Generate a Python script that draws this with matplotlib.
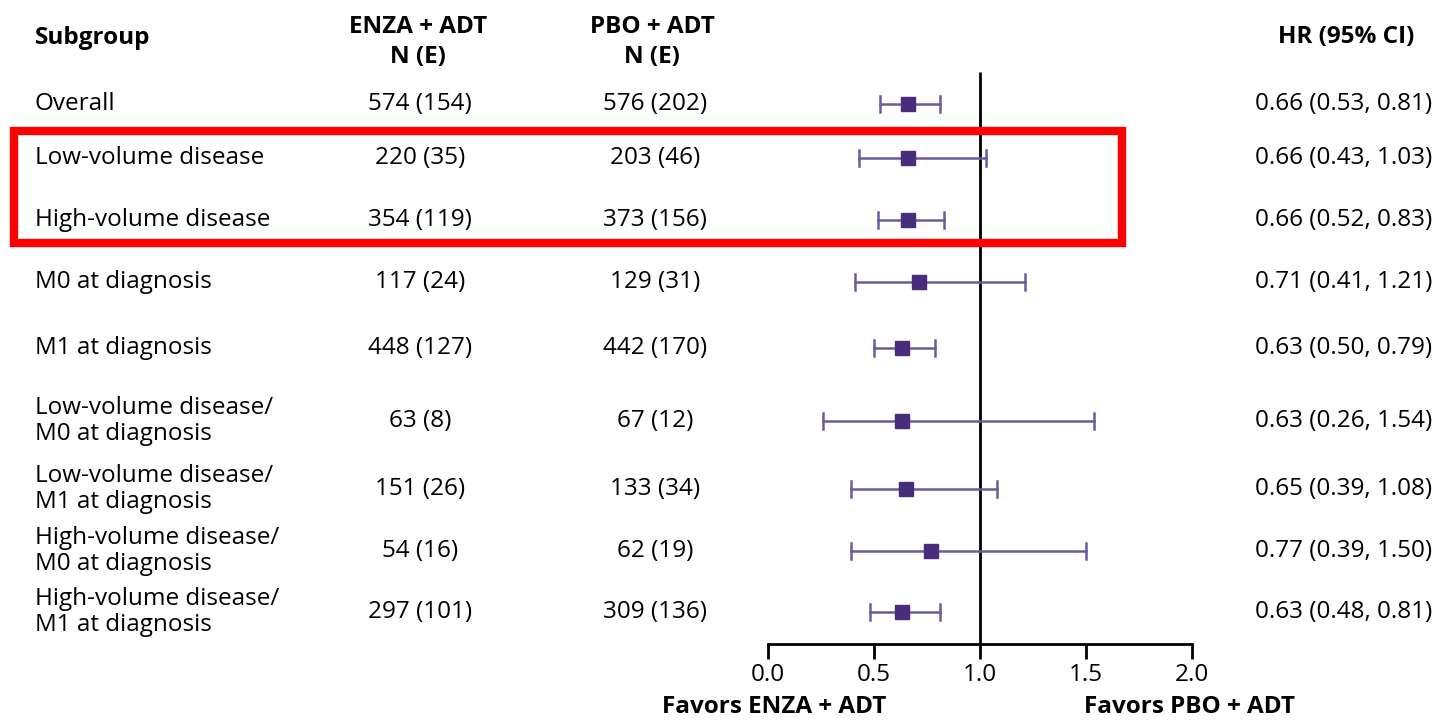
import matplotlib.pyplot as plt
from matplotlib.patches import Rectangle

plt.rcParams['font.family'] = ['Open Sans', 'DejaVu Sans']

subgroups = ['Overall', 'Low-volume disease', 'High-volume disease',
             'M0 at diagnosis', 'M1 at diagnosis',
             'Low-volume disease/\nM0 at diagnosis',
             'Low-volume disease/\nM1 at diagnosis',
             'High-volume disease/\nM0 at diagnosis',
             'High-volume disease/\nM1 at diagnosis']
enza_n = [574, 220, 354, 117, 448, 63, 151, 54, 297]
enza_e = [154, 35, 119, 24, 127, 8, 26, 16, 101]
pbo_n = [576, 203, 373, 129, 442, 67, 133, 62, 309]
pbo_e = [202, 46, 156, 31, 170, 12, 34, 19, 136]
hr = [0.66, 0.66, 0.66, 0.71, 0.63, 0.63, 0.65, 0.77, 0.63]
ci_low = [0.53, 0.43, 0.52, 0.41, 0.50, 0.26, 0.39, 0.39, 0.48]
ci_high = [0.81, 1.03, 0.83, 1.21, 0.79, 1.54, 1.08, 1.50, 0.81]

# layout (pixels from top)
W, H = 1443, 721
row_y = [104, 158, 220, 282, 348, 421, 489, 551, 612]

fig = plt.figure(figsize=(W / 100, H / 100), dpi=100)

def fx(px):
    return px / W

def fy(py):
    return 1 - py / H

marker_col = '#4a2c7d'
line_col = '#6d5a98'
fs = 17.5

ax = fig.add_axes([fx(768), fy(644), fx(1192) - fx(768), fy(0) - fy(644)])
ax.set_xlim(0, 2)
ax.set_ylim(644, 0)
for s in ['top', 'right', 'left']:
    ax.spines[s].set_visible(False)
ax.spines['bottom'].set_linewidth(2)
ax.set_yticks([])
ax.set_xticks([0, 0.5, 1.0, 1.5, 2.0])
ax.set_xticklabels(['0.0', '0.5', '1.0', '1.5', '2.0'], fontsize=fs)
ax.tick_params(axis='x', direction='out', length=11, width=2, pad=3)
ax.vlines(1.0, 72, 644, color='black', lw=2)

for y, h, lo, hi in zip(row_y, hr, ci_low, ci_high):
    ax.plot([lo, hi], [y, y], color=line_col, lw=1.8, zorder=3)
    ax.plot([lo, lo], [y - 8, y + 8], color=line_col, lw=1.8, zorder=3)
    ax.plot([hi, hi], [y - 8, y + 8], color=line_col, lw=1.8, zorder=3)
    ax.plot(h, y, marker='s', ms=10.5, color=marker_col, zorder=4)

# headers
fig.text(fx(35), fy(38), 'Subgroup', fontsize=fs, fontweight='bold', va='center', ha='left')
fig.text(fx(418), fy(42), 'ENZA + ADT\nN (E)', fontsize=fs, fontweight='bold',
         va='center', ha='center', linespacing=1.38)
fig.text(fx(652), fy(42), 'PBO + ADT\nN (E)', fontsize=fs, fontweight='bold',
         va='center', ha='center', linespacing=1.38)
fig.text(fx(1414), fy(37), 'HR (95% CI)', fontsize=fs, fontweight='bold', va='center', ha='right')

for i, y in enumerate(row_y):
    fig.text(fx(35), fy(y), subgroups[i], fontsize=fs, va='center', ha='left', linespacing=1.12)
    fig.text(fx(420), fy(y), f'{enza_n[i]} ({enza_e[i]})', fontsize=fs, va='center', ha='center')
    fig.text(fx(655), fy(y), f'{pbo_n[i]} ({pbo_e[i]})', fontsize=fs, va='center', ha='center')
    fig.text(fx(1432), fy(y), f'{hr[i]:.2f} ({ci_low[i]:.2f}, {ci_high[i]:.2f})',
             fontsize=fs, va='center', ha='right')

fig.text(fx(774), fy(707), 'Favors ENZA + ADT', fontsize=fs, fontweight='bold', va='center', ha='center')
fig.text(fx(1190), fy(707), 'Favors PBO + ADT', fontsize=fs, fontweight='bold', va='center', ha='center')

# highlight box
fig.patches.append(Rectangle((fx(14), fy(243)), fx(1122) - fx(14), fy(131) - fy(243),
                             transform=fig.transFigure, fill=False, edgecolor='#ff0000',
                             lw=6, zorder=10))

fig.savefig('out.png', dpi=100)
